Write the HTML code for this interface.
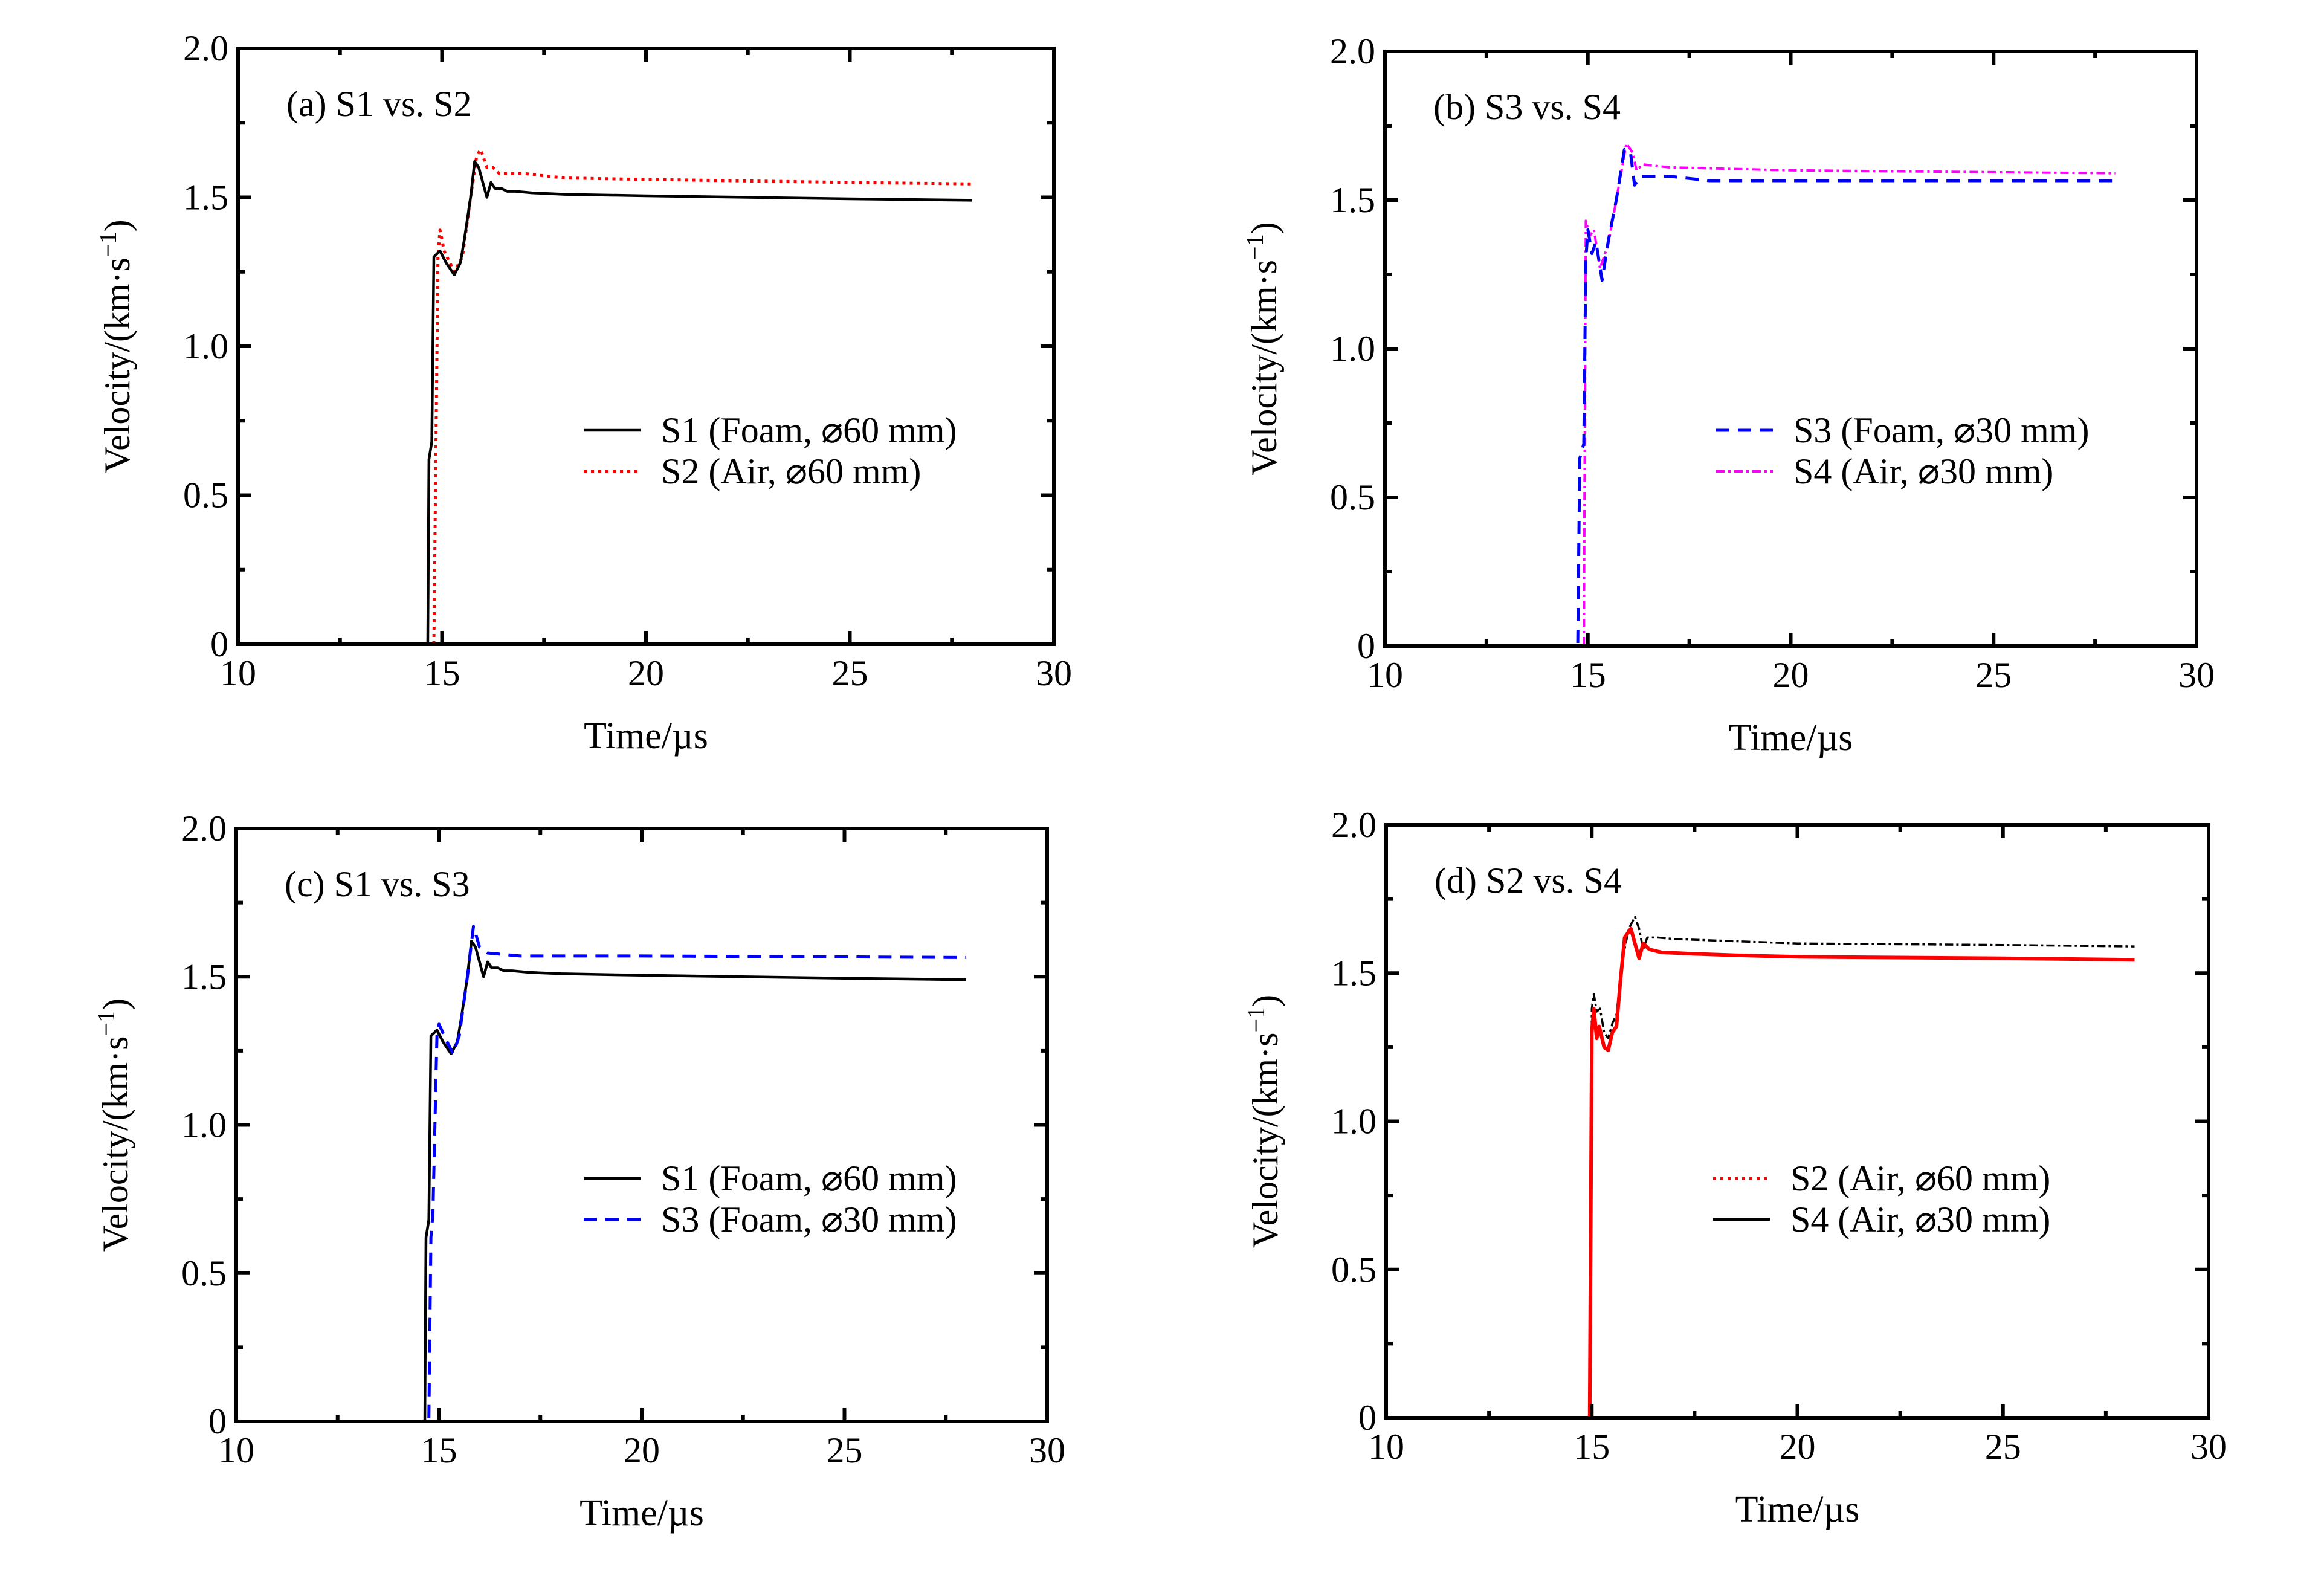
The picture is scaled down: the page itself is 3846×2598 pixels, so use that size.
<!DOCTYPE html>
<html><head><meta charset="utf-8"><style>
html,body{margin:0;padding:0;background:#fff}
svg{display:block}
text{font-family:"Liberation Serif","DejaVu Serif",serif;fill:#000}
</style></head>
<body>
<svg id="fig" width="3846" height="2598" viewBox="0 0 3846 2598" xmlns="http://www.w3.org/2000/svg"></svg>
<script>
// ---- data (time in µs, velocity in km/s) ----
const xTicks = [10, 15, 20, 25, 30];
const yTicks = [0, 0.5, 1.0, 1.5, 2.0];
const yTickLabels = ["0", "0.5", "1.0", "1.5", "2.0"];

const s1Time = [10, 14.65, 14.68, 14.75, 14.8, 14.95, 15.1, 15.3, 15.45, 15.55, 15.7, 15.8, 15.9, 16.0, 16.1, 16.2, 16.3, 16.45, 16.6, 16.8, 17.2, 18, 20, 25, 28];
const s1Vel  = [0, 0, 0.62, 0.68, 1.3, 1.32, 1.28, 1.24, 1.28, 1.36, 1.5, 1.62, 1.6, 1.55, 1.5, 1.55, 1.53, 1.53, 1.52, 1.52, 1.515, 1.51, 1.505, 1.495, 1.49];

const s2Time = [10, 14.8, 14.9, 14.95, 15.05, 15.3, 15.5, 15.7, 15.85, 15.95, 16.1, 16.25, 16.4, 17, 18, 20, 25, 28];
const s2Vel  = [0, 0, 1.3, 1.39, 1.32, 1.25, 1.3, 1.5, 1.64, 1.66, 1.6, 1.6, 1.58, 1.58, 1.565, 1.56, 1.55, 1.545];

const s3Time = [10, 14.75, 14.8, 14.9, 14.95, 15.0, 15.1, 15.2, 15.35, 15.5, 15.7, 15.9, 16.05, 16.15, 16.3, 17, 18, 20, 28];
const s3Vel  = [0, 0, 0.63, 0.68, 1.3, 1.4, 1.32, 1.36, 1.23, 1.36, 1.5, 1.67, 1.66, 1.55, 1.58, 1.58, 1.565, 1.565, 1.565];

const s4Time = [10, 14.9, 14.95, 15.05, 15.15, 15.3, 15.5, 15.7, 15.95, 16.1, 16.2, 16.35, 17, 20, 28];
const s4Vel  = [0, 0, 1.43, 1.38, 1.4, 1.27, 1.35, 1.5, 1.69, 1.66, 1.6, 1.62, 1.61, 1.6, 1.59];

const s3cTime = [10, 14.75, 14.8, 14.85, 14.95, 15.0, 15.2, 15.35, 15.5, 15.7, 15.85, 16.0, 16.2, 17, 20, 28];
const s3cVel  = [0, 0, 0.62, 0.7, 1.3, 1.34, 1.28, 1.24, 1.3, 1.5, 1.67, 1.6, 1.58, 1.57, 1.57, 1.565];

const s2dTime = [10, 14.95, 15.0, 15.05, 15.12, 15.18, 15.3, 15.4, 15.5, 15.6, 15.7, 15.8, 15.95, 16.05, 16.15, 16.25, 16.4, 16.7, 17.5, 18.5, 20, 25, 28.2];
const s2dVel  = [0, 0, 1.3, 1.38, 1.28, 1.32, 1.25, 1.24, 1.3, 1.32, 1.48, 1.62, 1.65, 1.6, 1.55, 1.6, 1.58, 1.57, 1.565, 1.56, 1.555, 1.55, 1.545];

const s4dTime = [10, 14.95, 15.0, 15.05, 15.12, 15.2, 15.3, 15.4, 15.5, 15.6, 15.75, 15.9, 16.05, 16.15, 16.25, 16.35, 16.6, 17, 20, 25, 28.2];
const s4dVel  = [0, 0, 1.38, 1.43, 1.37, 1.38, 1.3, 1.28, 1.33, 1.36, 1.55, 1.65, 1.69, 1.65, 1.58, 1.62, 1.62, 1.615, 1.6, 1.595, 1.59];

const NS = "http://www.w3.org/2000/svg";
const svg = document.getElementById("fig");
function mk(tag, attrs, parent) {
  const e = document.createElementNS(NS, tag);
  for (const k in attrs) e.setAttribute(k, attrs[k]);
  (parent || svg).appendChild(e);
  return e;
}

const styles = {
  solidBlack: {stroke: "#000", "stroke-width": 4.5, dash: null},
  dotRed: {stroke: "#ff0000", "stroke-width": 5, dash: "5 7"},
  dashBlue: {stroke: "#0000ff", "stroke-width": 5, dash: "22 14"},
  dashDotMagenta: {stroke: "#ff00ff", "stroke-width": 4, dash: "14 6 4 6"},
  solidRed: {stroke: "#ff0000", "stroke-width": 6, dash: null},
  dashDotBlack: {stroke: "#000", "stroke-width": 3.5, dash: "14 5 4 5"}
};

function panel(p) {
  const g = mk("g", {});
  
  
  const X = v => p.x0 + (v - 10) / 20 * (p.x1 - p.x0);
  const Y = v => p.y0 - v / 2 * (p.y0 - p.y1);

  p.series.forEach(s => {
    const st = styles[s.style];
    const d = s.t.map((t, i) => (i ? "L" : "M") + X(t).toFixed(1) + " " + Y(s.v[i]).toFixed(1)).join(" ");
    const path = mk("path", {d: d, fill: "none", stroke: st.stroke, "stroke-width": st["stroke-width"], "stroke-linejoin": "round"}, g);
    if (st.dash) path.setAttribute("stroke-dasharray", st.dash);
    
    
  });

  const fr = mk("rect", {x: p.x0, y: p.y1, width: p.x1 - p.x0, height: p.y0 - p.y1, fill: "none", stroke: "#000", "stroke-width": 6}, g);
  
  

  for (let v = 10; v <= 30; v += 2.5) {
    const L = (v % 5 === 0) ? 22 : 11;
    mk("line", {x1: X(v), x2: X(v), y1: p.y0, y2: p.y0 - L, stroke: "#000", "stroke-width": 6}, g);
    mk("line", {x1: X(v), x2: X(v), y1: p.y1, y2: p.y1 + L, stroke: "#000", "stroke-width": 6}, g);
  }
  for (let v = 0; v <= 2; v += 0.25) {
    const L = (Math.abs(v * 2 - Math.round(v * 2)) < 1e-6) ? 22 : 11;
    mk("line", {x1: p.x0, x2: p.x0 + L, y1: Y(v), y2: Y(v), stroke: "#000", "stroke-width": 6}, g);
    mk("line", {x1: p.x1, x2: p.x1 - L, y1: Y(v), y2: Y(v), stroke: "#000", "stroke-width": 6}, g);
  }
  xTicks.forEach(v => {
    const t = mk("text", {x: X(v), y: p.y0 + 68, "font-size": 60, "text-anchor": "middle"}, g);
    t.textContent = String(v);
    
    
  });
  yTicks.forEach((v, i) => {
    const t = mk("text", {x: p.x0 - 16, y: Y(v) + 20, "font-size": 60, "text-anchor": "end"}, g);
    t.textContent = yTickLabels[i];
    
    
  });

  const xt = mk("text", {x: (p.x0 + p.x1) / 2, y: p.y0 + 172, "font-size": 62, "text-anchor": "middle"}, g);
  xt.textContent = "Time/µs";
  
  
  const yc = (p.y0 + p.y1) / 2;
  const yt = mk("text", {x: 0, y: 0, "font-size": 60, "text-anchor": "middle", transform: `translate(${p.x0 - 180},${yc}) rotate(-90)`}, g);
  yt.innerHTML = 'Velocity/(km·s<tspan dy="-22" font-size="40">−1</tspan><tspan dy="22">)</tspan>';
  
  

  const pt = mk("text", {x: p.x0 + 80, y: p.y1 + 112, "font-size": 60}, g);
  pt.textContent = p.title;
  
  

  p.legend.forEach((lg, i) => {
    const st = styles[lg.style];
    const ly = p.ly + i * 68;
    const ln = mk("line", {x1: p.lx, x2: p.lx + 94, y1: ly, y2: ly, stroke: st.stroke, "stroke-width": st["stroke-width"]}, g);
    if (st.dash) ln.setAttribute("stroke-dasharray", st.dash);
    
    
    const tx = mk("text", {x: p.lx + 128, y: ly + 20, "font-size": 60}, g);
    tx.textContent = lg.label;
    
    
  });
}

panel({name: "panel-a", x0: 394, x1: 1744, y0: 1066, y1: 80, title: "(a) S1 vs. S2", lx: 966, ly: 712,
  series: [{id: "s2", t: s2Time, v: s2Vel, style: "dotRed"}, {id: "s1", t: s1Time, v: s1Vel, style: "solidBlack"}],
  legend: [{label: "S1 (Foam, ⌀60 mm)", style: "solidBlack"}, {label: "S2 (Air, ⌀60 mm)", style: "dotRed"}]});
panel({name: "panel-b", x0: 2292, x1: 3635, y0: 1069, y1: 85, title: "(b) S3 vs. S4", lx: 2840, ly: 712,
  series: [{id: "s4", t: s4Time, v: s4Vel, style: "dashDotMagenta"}, {id: "s3", t: s3Time, v: s3Vel, style: "dashBlue"}],
  legend: [{label: "S3 (Foam, ⌀30 mm)", style: "dashBlue"}, {label: "S4 (Air, ⌀30 mm)", style: "dashDotMagenta"}]});
panel({name: "panel-c", x0: 391, x1: 1733, y0: 2352, y1: 1371, title: "(c) S1 vs. S3", lx: 966, ly: 1950,
  series: [{id: "s1", t: s1Time, v: s1Vel, style: "solidBlack"}, {id: "s3", t: s3cTime, v: s3cVel, style: "dashBlue"}],
  legend: [{label: "S1 (Foam, ⌀60 mm)", style: "solidBlack"}, {label: "S3 (Foam, ⌀30 mm)", style: "dashBlue"}]});
panel({name: "panel-d", x0: 2294, x1: 3655, y0: 2346, y1: 1365, title: "(d) S2 vs. S4", lx: 2835, ly: 1950,
  series: [{id: "s4", t: s4dTime, v: s4dVel, style: "dashDotBlack"}, {id: "s2", t: s2dTime, v: s2dVel, style: "solidRed"}],
  legend: [{label: "S2 (Air, ⌀60 mm)", style: "dotRed"}, {label: "S4 (Air, ⌀30 mm)", style: "solidBlack"}]});
</script>
</body></html>
